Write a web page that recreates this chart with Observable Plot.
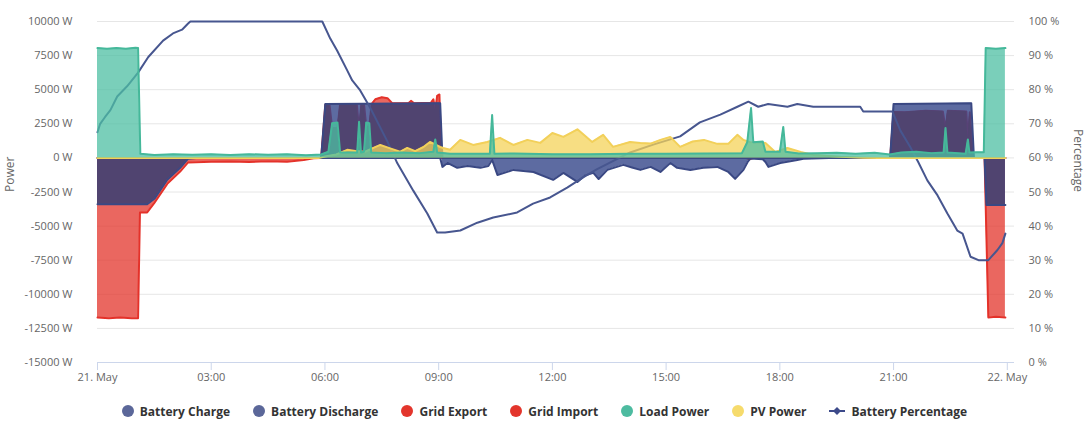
<!DOCTYPE html>
<html><head><meta charset="utf-8">
<script src="https://cdn.jsdelivr.net/npm/d3@7"></script>
<script src="https://cdn.jsdelivr.net/npm/@observablehq/plot@0.6"></script>
<style>
body{margin:0;background:#fff;font-family:"Open Sans",sans-serif;}
#chart svg{display:block}
#chart g[aria-label="x-axis tick"]{stroke:#ccd6eb}
#legend{display:flex;justify-content:center;align-items:center;gap:0 23px;font-weight:700;font-size:12px;color:#333;height:32px}
.item{display:flex;align-items:center;gap:6px;white-space:nowrap}
.dot{width:12px;height:12px;border-radius:50%;display:inline-block}
</style></head><body>
<div id="chart"></div><div id="legend"></div>
<script>
// ---- data (hours since 21 May 00:00, watts / percent) ----
const batteryHours = [0, 1.31, 1.50, 1.84, 2.18, 2.39, 2.60, 5.90, 6.01, 9.04, 9.10, 9.23, 9.49, 9.76, 10.10, 10.31, 10.41, 10.55, 10.97, 11.50, 12.02, 12.29, 12.66, 12.85, 13.08, 13.22, 13.45, 13.87, 14.10, 14.32, 14.59, 14.85, 15.11, 15.29, 15.64, 15.98, 16.35, 16.64, 16.82, 17.04, 17.15, 17.22, 17.55, 17.62, 17.70, 18.01, 18.20, 18.46, 18.62, 19.30, 20.91, 21.00, 23.05, 23.12, 23.40, 23.45, 23.95];
const batteryWatts = [-3400, -3400, -3000, -1600, -730, -60, 0, 0, 3960, 4000, -660, -370, -730, -590, -730, -600, -150, -1250, -880, -1030, -1610, -1100, -1760, -1300, -1100, -1550, -880, -510, -700, -880, -660, -1030, -370, -730, -880, -730, -660, -1030, -1540, -880, -300, -50, -100, -300, -660, -370, -290, -150, -70, 0, 0, 3960, 4000, 0, 0, -3450, -3450];

const gridHours = [0, 0.3, 0.6, 0.9, 1.07, 1.12, 1.31, 1.50, 1.84, 2.18, 2.39, 3.0, 3.5, 4.0, 4.5, 5.0, 5.44, 5.70, 5.90, 6.01, 6.12, 6.19, 6.33, 6.40, 6.84, 6.90, 6.96, 7.03, 7.09, 7.17, 7.23, 7.33, 7.50, 7.65, 7.78, 8.20, 8.27, 8.35, 8.80, 8.86, 8.91, 8.96, 9.02, 9.07, 17.10, 17.20, 17.30, 20.91, 21.00, 21.30, 21.85, 22.30, 22.37, 22.43, 22.92, 22.96, 23.01, 23.10, 23.40, 23.50, 23.70, 23.95];
const gridWatts = [-11700, -11750, -11700, -11750, -11750, -4000, -4000, -3300, -1900, -1000, -330, -280, -260, -300, -250, -280, -150, -20, 0, 3900, 3900, 2200, 2200, 3950, 3950, 2100, 3950, 3950, 2300, 2300, 3950, 4300, 4450, 4380, 4000, 4000, 4180, 4000, 4050, 4300, 3500, 4550, 4650, 0, 0, -100, 0, 0, 3370, 3350, 3450, 3400, 2150, 3450, 3400, 1300, 3350, 0, 0, -11700, -11650, -11700];

const loadHours = [0, 0.25, 0.5, 0.75, 1.0, 1.07, 1.13, 1.5, 2.0, 2.5, 3.0, 3.5, 4.0, 4.5, 5.0, 5.5, 5.9, 6.09, 6.19, 6.33, 6.40, 6.85, 6.90, 6.95, 7.03, 7.09, 7.17, 7.22, 7.6, 8.0, 8.5, 8.86, 8.91, 8.96, 9.3, 10.35, 10.41, 10.47, 11.0, 12.0, 13.0, 14.0, 15.0, 16.0, 17.0, 17.14, 17.24, 17.30, 17.55, 17.62, 18.0, 18.09, 18.15, 18.5, 19.0, 19.5, 20.0, 20.5, 20.9, 21.2, 21.6, 22.0, 22.32, 22.37, 22.42, 22.9, 22.96, 23.0, 23.2, 23.38, 23.43, 23.7, 23.95];
const loadWatts = [8050, 8000, 8050, 8000, 8080, 8050, 300, 220, 270, 230, 260, 220, 270, 230, 260, 200, 250, 450, 2550, 2600, 400, 400, 2650, 400, 450, 2600, 2550, 400, 350, 400, 350, 450, 1350, 400, 300, 300, 3150, 300, 320, 270, 270, 300, 300, 320, 350, 1150, 3650, 1150, 1200, 450, 450, 2270, 450, 330, 350, 380, 300, 380, 250, 400, 450, 350, 400, 2200, 400, 300, 1350, 400, 420, 420, 8050, 8000, 8050];

const pvHours = [0, 5.85, 6.0, 6.3, 6.59, 6.80, 7.06, 7.25, 7.46, 7.72, 7.98, 8.17, 8.38, 8.6, 8.77, 9.04, 9.12, 9.30, 9.57, 9.91, 10.28, 10.62, 10.97, 11.34, 11.68, 12.00, 12.29, 12.66, 12.92, 13.05, 13.34, 13.6, 14.05, 14.32, 14.59, 14.85, 15.11, 15.37, 15.70, 16.0, 16.35, 16.64, 16.88, 17.04, 17.22, 17.62, 17.88, 18.2, 18.55, 18.88, 19.6, 20.2, 20.6, 23.95];
const pvWatts = [0, 0, 100, 250, 590, 500, 450, 700, 950, 700, 450, 730, 500, 800, 1170, 800, 730, 600, 1320, 950, 1170, 1470, 950, 1320, 1100, 1830, 1540, 2100, 1470, 1170, 1690, 810, 1170, 1100, 1050, 1320, 1540, 810, 1200, 1320, 1030, 1030, 1690, 1320, 1150, 1100, 440, 730, 440, 220, 80, 20, 0, 0];

const pctHours = [0, 0.07, 0.20, 0.34, 0.52, 0.78, 1.07, 1.34, 1.73, 1.99, 2.23, 2.39, 2.45, 5.93, 6.14, 6.32, 6.59, 6.72, 6.93, 7.19, 7.64, 7.91, 8.33, 8.70, 8.96, 9.17, 9.57, 10.02, 10.44, 11.07, 11.49, 11.94, 12.39, 12.81, 13.18, 14.05, 14.66, 15.37, 15.89, 16.43, 16.88, 17.17, 17.43, 17.69, 18.20, 18.46, 18.88, 20.12, 20.20, 20.97, 21.18, 21.44, 21.65, 21.89, 22.16, 22.42, 22.68, 22.82, 23.03, 23.24, 23.50, 23.74, 23.87, 23.95];
const pctValues = [67.5, 70, 72, 74, 78, 81, 85, 89.6, 94.4, 96.5, 97.6, 99.4, 100, 100, 95, 91.5, 85.6, 82.7, 79.8, 74.8, 65, 58.4, 50.4, 43.7, 38.1, 38.1, 38.7, 41, 42.5, 44, 46.6, 48.4, 51.3, 54.3, 56.7, 61.6, 63.9, 66.3, 70.4, 72.7, 75, 76.5, 75, 75.8, 75, 75.8, 75, 75, 73.6, 73.6, 68, 63.2, 58.8, 53.4, 49, 43.7, 38.7, 37.8, 31, 30, 30, 33, 35, 37.8];

const powerTicks = [-15000, -12500, -10000, -7500, -5000, -2500, 0, 2500, 5000, 7500, 10000];
const percentLabels = ["0 %", "10 %", "20 %", "30 %", "40 %", "50 %", "60 %", "70 %", "80 %", "90 %", "100 %"];
const timeTicks = [0, 3, 6, 9, 12, 15, 18, 21, 24];
const timeLabels = ["21. May", "03:00", "06:00", "09:00", "12:00", "15:00", "18:00", "21:00", "22. May"];

const legendLabels = ["Battery Charge", "Battery Discharge", "Grid Export", "Grid Import", "Load Power", "PV Power", "Battery Percentage"];
const legendColors = ["#5b6799", "#5b6799", "#e3352c", "#e3352c", "#4dbba0", "#f6db6c", "#3d4a8a"];

// ---- build tables ----
const zipSeries = (hs, vs) => hs.map((h, i) => ({h, v: vs[i]}));
const battery = zipSeries(batteryHours, batteryWatts);
const batteryCharge = battery.map(d => ({h: d.h, v: Math.min(d.v, 0)}));
const batteryDischarge = battery.map(d => ({h: d.h, v: Math.max(d.v, 0)}));
const grid = zipSeries(gridHours, gridWatts);
const gridImport = grid.map(d => ({h: d.h, v: Math.min(d.v, 0)}));
const gridExport = grid.map(d => ({h: d.h, v: Math.max(d.v, 0)}));
const load = zipSeries(loadHours, loadWatts);
const pv = zipSeries(pvHours, pvWatts);
const pct = zipSeries(pctHours, pctValues);
// percent axis shares the power frame: 60 % <-> 0 W, 10 % <-> 2500 W
const pctToPower = p => (p - 60) * 250;

const BLUE_FILL = "#34468a", BLUE_LINE = "#3a4883";
const RED_FILL = "#e3342b", RED_LINE = "#e4322a";
const PURPLE = "#504470";
const TEAL_FILL = "#4dbfa3", TEAL_LINE = "#45b89a";
const YEL_FILL = "#f4d35a", YEL_LINE = "#f2d05a";

const chart = Plot.plot({
  width: 1089, height: 395,
  marginLeft: 97, marginRight: 75, marginTop: 21, marginBottom: 33,
  style: {fontFamily: "'Open Sans', sans-serif", fontSize: "11px", background: "#fff"},
  x: {type: "linear", domain: [0, 24.19]},
  y: {domain: [-15000, 10000]},
  marks: [
    Plot.gridY(powerTicks, {stroke: "#e6e6e6", strokeOpacity: 1}),
    Plot.ruleY([-15000], {stroke: "#ccd6eb"}),
    Plot.axisY({ticks: powerTicks, tickFormat: d => `${d} W`, tickSize: 0, tickPadding: 25, label: null, color: "#666"}),
    Plot.axisY({anchor: "right", ticks: powerTicks, tickFormat: d => percentLabels[powerTicks.indexOf(d)], tickSize: 0, tickPadding: 14, label: null, color: "#666", textAnchor: "start"}),
    Plot.axisX({ticks: timeTicks, tickFormat: d => timeLabels[timeTicks.indexOf(d)], tickSize: 8, tickPadding: 3, label: null, color: "#666"}),
    Plot.text(["Power"], {text: d => d, frameAnchor: "left", dx: -87, rotate: -90, fill: "#666", fontSize: 12}),
    Plot.text(["Percentage"], {text: d => d, frameAnchor: "right", dx: 63, rotate: 90, fill: "#666", fontSize: 12}),
    // grid import / export
    Plot.areaY(grid, {x: "h", y: "v", fill: RED_FILL, fillOpacity: 0.75}),
    Plot.lineY(gridImport, {x: "h", y: "v", stroke: RED_LINE, strokeWidth: 2}),
    Plot.lineY(gridExport, {x: "h", y: "v", stroke: RED_LINE, strokeWidth: 2}),
    // battery charge / discharge
    Plot.areaY(battery, {x: "h", y: "v", fill: BLUE_FILL, fillOpacity: 0.8}),
    Plot.areaY(battery, {x: "h", y: "v", fill: PURPLE, fillOpacity: 1}),
    Plot.lineY(batteryCharge, {x: "h", y: "v", stroke: BLUE_LINE, strokeWidth: 2}),
    Plot.lineY(batteryDischarge, {x: "h", y: "v", stroke: BLUE_LINE, strokeWidth: 2}),
    // battery percentage
    Plot.lineY(pct, {x: "h", y: d => pctToPower(d.v), stroke: "#47568f", strokeWidth: 2}),
    // PV
    Plot.areaY(pv, {x: "h", y: "v", fill: YEL_FILL, fillOpacity: 0.75}),
    Plot.lineY(pv, {x: "h", y: "v", stroke: YEL_LINE, strokeWidth: 2}),
    // Load
    Plot.areaY(load, {x: "h", y: "v", fill: TEAL_FILL, fillOpacity: 0.75}),
    Plot.lineY(load, {x: "h", y: "v", stroke: TEAL_LINE, strokeWidth: 2})
  ]
});

// overlap of battery and grid areas drawn in purple: clip the purple battery copy to the grid area
(function () {
  const ns = "http://www.w3.org/2000/svg";
  const gridG = chart.querySelector(`g[fill="${RED_FILL}"]`);
  const purpleG = chart.querySelector(`g[fill="${PURPLE}"]`);
  if (!gridG || !purpleG) return;
  const gp = gridG.querySelector("path");
  const defs = document.createElementNS(ns, "defs");
  const cp = document.createElementNS(ns, "clipPath");
  cp.setAttribute("id", "gridClip");
  const p = document.createElementNS(ns, "path");
  p.setAttribute("d", gp.getAttribute("d"));
  if (gridG.getAttribute("transform")) p.setAttribute("transform", gridG.getAttribute("transform"));
  cp.appendChild(p); defs.appendChild(cp);
  chart.insertBefore(defs, chart.firstChild);
  purpleG.querySelectorAll("path").forEach(el => el.setAttribute("clip-path", "url(#gridClip)"));
})();

document.getElementById("chart").appendChild(chart);

// legend
const legend = document.getElementById("legend");
legendLabels.forEach((label, i) => {
  const item = document.createElement("div");
  item.className = "item";
  if (i === legendLabels.length - 1) {
    item.innerHTML = `<svg width="16" height="12"><line x1="0" y1="6" x2="16" y2="6" stroke="${legendColors[i]}" stroke-width="2"/><path d="M8 2 L12 6 L8 10 L4 6 Z" fill="${legendColors[i]}"/></svg>`;
  } else {
    item.innerHTML = `<span class="dot" style="background:${legendColors[i]}"></span>`;
  }
  const t = document.createElement("span");
  t.textContent = label;
  item.appendChild(t);
  legend.appendChild(item);
});
</script>
</body></html>
